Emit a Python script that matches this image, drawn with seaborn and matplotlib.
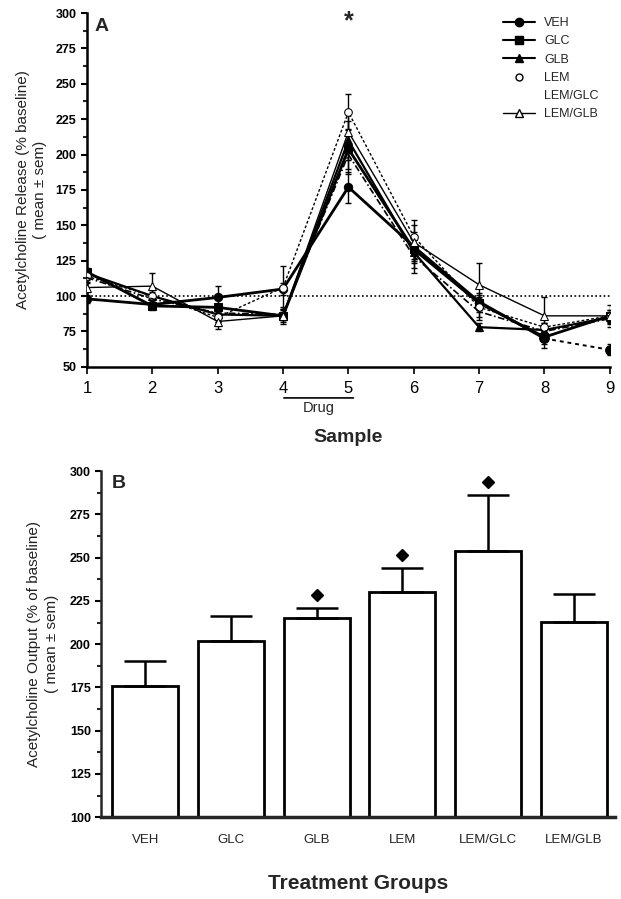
import numpy as np
import pandas as pd
import matplotlib
matplotlib.use("Agg")
import matplotlib.pyplot as plt
import seaborn as sns
from matplotlib.ticker import MultipleLocator
from matplotlib.lines import Line2D

sns.set_theme(style="ticks")
plt.rcParams['font.family'] = ['Liberation Sans', 'DejaVu Sans']

# ---------------- data ----------------
samples = [1, 2, 3, 4, 5, 6, 7, 8, 9]
series_names = ["VEH", "GLC", "GLB", "LEM", "LEM/GLC", "LEM/GLB"]
veh = [98, 94, 99, 105, 177, 135, 96, 70, 62]
glc = [117, 93, 92, 86, 204, 133, 95, 71, 86]
glb = [116, 100, 87, 86, 210, 131, 78, 76, 85]
lem = [114, 100, 85, 106, 230, 142, 92, 78, 86]
lem_glc = [113, 98, 88, 87, 200, 128, 89, 75, 84]
lem_glb = [106, 107, 82, 86, 216, 138, 108, 86, 86]

veh_err = [3, 3, 8, 4, 11, 10, 6, 7, 4]
glc_err = [3, 3, 6, 4, 14, 10, 6, 5, 4]
glb_err = [3, 3, 5, 3, 14, 11, 3, 5, 4]
lem_err = [3, 4, 6, 15, 13, 12, 7, 6, 4]
lem_glc_err = [3, 3, 6, 4, 14, 12, 6, 6, 4]
lem_glb_err = [3, 9, 5, 6, 15, 12, 15, 13, 8]

groups = ["VEH", "GLC", "GLB", "LEM", "LEM/GLC", "LEM/GLB"]
output = [176, 202, 215, 230, 254, 213]
output_err = [14, 14, 6, 14, 32, 16]
significant = [False, False, True, True, True, False]

# ---------------- figure ----------------
fig = plt.figure(figsize=(6.21, 8.99), dpi=100)
axA = fig.add_axes([0.140, 0.592, 0.842, 0.3935])
axB = fig.add_axes([0.163, 0.091, 0.827, 0.385])

tick_font = dict(family=['Liberation Sans Narrow', 'Liberation Sans'], weight='bold', size=9)

# ---- Panel A ----
styles = {
    "VEH": dict(marker='o', mfc='black', lw=2.0, ls='-', ms=6),
    "GLC": dict(marker='s', mfc='black', lw=2.0, ls='-', ms=5.5),
    "GLB": dict(marker='^', mfc='black', lw=1.6, ls='-', ms=6),
    "LEM": dict(marker='o', mfc='white', lw=1.0, ls=(0, (2, 1.5)), ms=5.5),
    "LEM/GLC": dict(marker=None, mfc='white', lw=1.2, ls=(0, (4, 1.5, 1, 1.5)), ms=5),
    "LEM/GLB": dict(marker='^', mfc='white', lw=1.0, ls='-', ms=6),
}
data_map = {"VEH": (veh, veh_err), "GLC": (glc, glc_err), "GLB": (glb, glb_err),
            "LEM": (lem, lem_err), "LEM/GLC": (lem_glc, lem_glc_err),
            "LEM/GLB": (lem_glb, lem_glb_err)}

axA.axhline(100, color='black', lw=1.2, ls=(0, (1, 1.5)), zorder=1)

for name in series_names:
    vals, errs = data_map[name]
    st = styles[name]
    if name == "VEH":
        sns.lineplot(x=samples[:8], y=vals[:8], ax=axA, color='black', lw=st['lw'],
                     linestyle='-', marker=st['marker'], markerfacecolor=st['mfc'],
                     markeredgecolor='black', markersize=st['ms'], zorder=3)
        sns.lineplot(x=samples[7:], y=vals[7:], ax=axA, color='black', lw=1.4,
                     linestyle=(0, (2, 2)), marker=st['marker'], markerfacecolor=st['mfc'],
                     markeredgecolor='black', markersize=st['ms'] + 1, zorder=3)
    else:
        sns.lineplot(x=samples, y=vals, ax=axA, color='black', lw=st['lw'],
                     linestyle=st['ls'], marker=st['marker'] if st['marker'] else '',
                     markerfacecolor=st['mfc'], markeredgecolor='black',
                     markersize=st['ms'], zorder=3)
    axA.errorbar(samples, vals, yerr=errs, fmt='none', ecolor='black', elinewidth=1.0,
                 capsize=2, capthick=1.0, zorder=2)

axA.set_xlim(1, 9)
axA.set_ylim(50, 300)
axA.yaxis.set_minor_locator(MultipleLocator(12.5))
axA.set_xticks(samples)
axA.set_xticklabels([str(s) for s in samples], fontsize=12)
axA.set_yticks(np.arange(50, 301, 25))
axA.set_yticklabels([str(v) for v in range(50, 301, 25)], fontdict=tick_font)
axA.tick_params(axis='both', direction='out', length=4, width=1.5, colors='black')
axA.tick_params(axis='y', which='minor', length=3, width=1.5)
axA.tick_params(axis='x', length=5, width=1.2, pad=5)
for sp in ['top', 'right']:
    axA.spines[sp].set_visible(False)
for sp in ['left', 'bottom']:
    axA.spines[sp].set_linewidth(1.8)
    axA.spines[sp].set_color('black')
axA.set_xlabel("")
axA.set_ylabel("Acetylcholine Release (% baseline)\n( mean \u00b1 sem)", fontsize=11,
               color='#222222', labelpad=6, linespacing=1.3)
axA.text(0.015, 0.985, "A", transform=axA.transAxes, fontsize=14, fontweight='bold',
         va='top', ha='left')
axA.text(5, 294, "*", fontsize=18, ha='center', va='center', fontweight='bold', clip_on=False)

# Drug bar and labels
axA.annotate("", xy=(3.97, 28), xytext=(5.12, 28), xycoords='data',
             arrowprops=dict(arrowstyle='-', lw=1.2, color='black'), annotation_clip=False)
axA.text(4.55, 26, "Drug", ha='center', va='top', fontsize=10.5, clip_on=False)
axA.text(5.0, 6, "Sample", ha='center', va='top', fontsize=14, fontweight='bold', clip_on=False)

# legend (manual handles)
handles = []
for name in series_names:
    st = styles[name]
    if name == "LEM":
        h = Line2D([], [], color='black', lw=0, marker='o', mfc='white', mec='black', ms=5)
    elif name == "LEM/GLC":
        h = Line2D([], [], color='white', lw=0)
    else:
        h = Line2D([], [], color='black', lw=1.5 if name != "LEM/GLB" else 1.0,
                   marker=st['marker'], mfc=st['mfc'], mec='black', ms=st['ms'])
    handles.append(h)
leg = axA.legend(handles, series_names, loc='upper right', bbox_to_anchor=(1.0, 1.02),
                 frameon=False, fontsize=9, handlelength=2.6, labelspacing=0.5,
                 handletextpad=0.7)

# ---- Panel B ----
dfB = pd.DataFrame({"group": groups, "output": output})
sns.barplot(data=dfB, x="group", y="output", ax=axB, color='white', edgecolor='black',
            linewidth=2.0, width=0.77, saturation=1)
xs = np.arange(len(groups))
axB.errorbar(xs, output, yerr=[np.zeros(len(output)), output_err], fmt='none',
             ecolor='black', elinewidth=1.8, capsize=15, capthick=1.8, zorder=4)
for x, v, e, s in zip(xs, output, output_err, significant):
    if s:
        axB.plot(x, v + e + 7.5, marker='D', color='black', ms=6.5, ls='', zorder=5)
axB.set_ylim(100, 300)
axB.set_xlim(-0.513, 5.48)
axB.set_yticks(np.arange(100, 301, 25))
axB.set_yticklabels([str(v) for v in range(100, 301, 25)], fontdict=tick_font)
axB.yaxis.set_minor_locator(MultipleLocator(12.5))
axB.set_xticks(xs)
axB.set_xticklabels(groups, fontsize=9.5, color='#222222')
axB.tick_params(axis='x', length=0, pad=12)
axB.tick_params(axis='y', direction='out', length=4, width=1.5, colors='black')
axB.tick_params(axis='y', which='minor', length=3, width=1.5)
for sp in ['top', 'right']:
    axB.spines[sp].set_visible(False)
axB.spines['left'].set_linewidth(1.8)
axB.spines['bottom'].set_linewidth(2.5)
axB.set_xlabel("Treatment Groups", fontsize=15, fontweight='bold', labelpad=20)
axB.set_ylabel("Acetylcholine Output (% of baseline)\n( mean \u00b1 sem)", fontsize=11,
               color='#222222', labelpad=8, linespacing=1.3)
axB.text(0.02, 0.99, "B", transform=axB.transAxes, fontsize=14, fontweight='bold',
         va='top', ha='left')

fig.savefig("out.png", dpi=100)
